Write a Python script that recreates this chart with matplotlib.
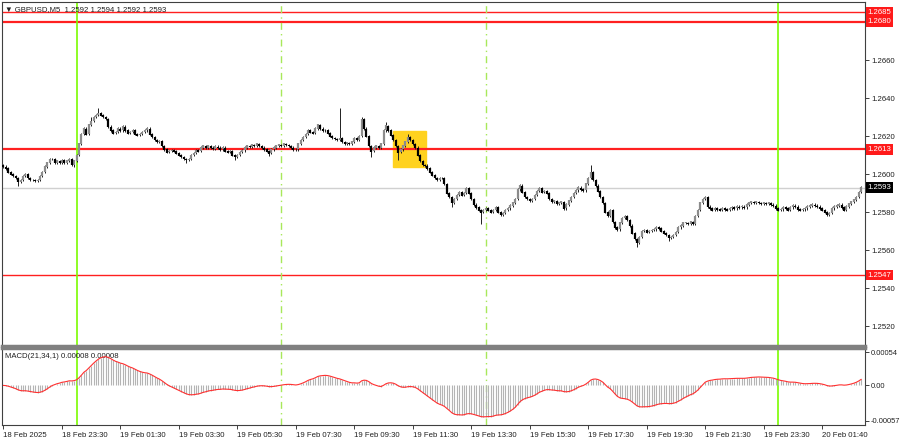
import numpy as np
import pandas as pd
import matplotlib
matplotlib.use("Agg")
import matplotlib.pyplot as plt
import matplotlib.transforms as mtransforms
from matplotlib.patches import Rectangle

plt.rcParams.update({
    "font.family": ["Liberation Sans", "DejaVu Sans"],
    "font.size": 5.6,
})

"""
Data (GBPUSD M5, closes in pips above 1.2500)
"""
base = 1.2500
close_pips = [
    104, 103, 101, 100, 99, 98, 96, 97, 99, 100,
    98, 97, 97, 96.5, 97, 99, 101, 104, 106, 108,
    108, 106, 107, 106, 107.5, 106, 107, 108, 105, 107,
    110, 116, 121, 124, 121, 126, 128, 130, 131, 132,
    131, 130, 129, 125, 123, 121.5, 122, 124, 123, 125,
    123, 121.5, 122, 123, 121, 120.5, 121, 122, 123, 124,
    121, 119.5, 118, 117, 117.5, 115, 113, 111.5, 112, 112.5,
    112, 111, 110, 109, 108, 107.5, 108, 110, 111, 112.5,
    112, 114, 115, 114, 115, 114, 113.5, 114.5, 114, 113,
    114, 112, 111.5, 112, 110, 109, 110, 111.5, 112.5, 114,
    115, 114.5, 115.5, 115, 116, 115, 114, 113, 112, 111,
    113, 114, 115, 115.5, 115, 116, 115.5, 115, 114, 113,
    113, 116, 118, 119.5, 121, 123, 122, 121.5, 124, 126,
    124, 123, 123, 121.5, 120, 119, 118.5, 118, 119, 117,
    116, 116.5, 116, 117, 119, 118, 120, 129, 124, 120,
    115, 112, 114, 115, 114, 116, 123, 125.5, 123, 120.5,
    118, 115, 111.5, 113, 115, 117, 119.5, 118, 116, 114,
    110, 107, 105, 104.5, 103, 101, 99.5, 98, 97, 98,
    98, 95, 90, 88, 85, 87, 89, 90.5, 89, 90,
    92.5, 90, 87, 84, 82.5, 81, 80, 81, 82, 81,
    80, 81, 82.5, 80, 78.5, 79.5, 81, 82, 83.5, 85,
    87, 92, 94, 90.5, 88, 87, 86, 87, 89, 91,
    92.5, 90.5, 91, 90, 87, 85.5, 86, 84.5, 85, 85.5,
    82, 84, 86, 88, 90, 91.5, 93, 92, 91.5, 95,
    98, 101, 97, 94, 91, 88, 85, 80, 78, 81,
    75, 72, 71, 74.5, 77, 78, 76, 73, 69, 66,
    64, 67, 70, 70.5, 69.5, 70, 70.5, 71, 72, 71.5,
    70, 69, 68, 66.5, 67, 68, 69.5, 72, 73, 74.5,
    74.5, 74, 75, 74, 78, 81, 85, 87, 88, 83,
    82, 81, 82, 81.5, 81, 82, 81.5, 81, 82, 82.5,
    82, 83, 82.5, 83, 82.5, 84, 85, 85.5, 85, 85.5,
    85, 84.5, 85, 84.5, 85, 84, 83.5, 82, 81, 81.5,
    82.5, 82, 81, 82.5, 83.5, 83, 81.5, 81, 81.5, 82,
    83, 83.5, 84, 83.5, 83, 82, 81, 80, 78.5, 79.5,
    82, 83, 83.5, 84, 82.5, 81, 83, 84.5, 85.5, 86.5,
    88, 90.5, 93,
]
first_open_pips = 105
high_spikes = {39: 135, 36: 130, 138: 135, 147: 130, 157: 127.5, 166: 121, 241: 105}
low_spikes = {6: 94, 29: 104, 75: 106, 95: 107.5, 109: 109.5, 151: 109,
              162: 107.5, 184: 82.5, 196: 74, 260: 61.5, 273: 65}

tick_idx = [0, 24, 48, 72, 96, 120, 144, 168, 192, 216, 240, 264, 288, 312, 336]
tick_labels = ["18 Feb 2025", "18 Feb 23:30", "19 Feb 01:30", "19 Feb 03:30",
               "19 Feb 05:30", "19 Feb 07:30", "19 Feb 09:30", "19 Feb 11:30",
               "19 Feb 13:30", "19 Feb 15:30", "19 Feb 17:30", "19 Feb 19:30",
               "19 Feb 21:30", "19 Feb 23:30", "20 Feb 01:40"]

levels = [1.2685, 1.2680, 1.2613, 1.2547]
level_widths = [1.0, 1.6, 1.6, 1.0]
last_price = 1.2593
day_lines = [30, 318]
session_lines = [114, 198]
box_idx = (160, 173.5)
box_price = (1.26037, 1.26226)

"""
Candles
"""
closes = base + np.array(close_pips) / 10000.0
opens = np.concatenate([[base + first_open_pips / 10000.0], closes[:-1]])
highs = np.maximum(opens, closes) + 0.00006
lows = np.minimum(opens, closes) - 0.00006
for k, v in high_spikes.items():
    highs[k] = base + v / 10000.0
for k, v in low_spikes.items():
    lows[k] = base + v / 10000.0
idx = np.arange(len(closes))

s = pd.Series(closes)
macd = (s.ewm(span=21, adjust=False).mean() - s.ewm(span=34, adjust=False).mean()).values

fig = plt.figure(figsize=(9, 4.41), dpi=100)
ax = fig.add_axes([2/900, 1 - 346/441, 863/900, 344/441])
ax2 = fig.add_axes([2/900, 1 - 425/441, 863/900, 77/441])

xmin, xmax = -0.6, 353.6
for a in (ax, ax2):
    a.set_xlim(xmin, xmax)
    a.set_facecolor("white")
    for sp in a.spines.values():
        sp.set_color("#404040")
        sp.set_linewidth(0.8)

ax.set_ylim(1.25097, 1.26905)
ax2.set_ylim(-0.00064, 0.000605)

# yellow signal box
ax.add_patch(Rectangle((box_idx[0], box_price[0]), box_idx[1] - box_idx[0],
                       box_price[1] - box_price[0], color="#ffd21f", zorder=1))

# levels
for lv, lw in zip(levels, level_widths):
    ax.axhline(lv, color="#ff2020", lw=lw, zorder=2)
ax.axhline(last_price, color="#d0d0d0", lw=1.0, zorder=1.5)

# vertical lines
for a in (ax, ax2):
    for d in day_lines:
        a.axvline(d, color="#7cfc00", lw=1.2, zorder=2)
    for d in session_lines:
        a.axvline(d, color="#a8e85a", lw=1.0, ls=(0, (5, 3, 1, 3)), zorder=2)

up = closes >= opens
ax.vlines(idx, lows, highs, color="#202020", lw=0.7, zorder=3)
ax.vlines(idx[up], opens[up], closes[up] + 0.00002, color="#8c8c8c", lw=1.6, zorder=4)
ax.vlines(idx[~up], closes[~up] - 0.00002, opens[~up], color="#000000", lw=1.6, zorder=4)

# price axis
ax.yaxis.tick_right()
ax.set_yticks([1.2520, 1.2540, 1.2560, 1.2580, 1.2600, 1.2620, 1.2640, 1.2660])
ax.set_yticklabels(["1.2520", "1.2540", "1.2560", "1.2580", "1.2600",
                    "1.2620", "1.2640", "1.2660"])
ax.tick_params(axis="y", length=3, width=0.6, pad=1.5, labelsize=5.6, colors="#202020")
ax.set_xticks([])

trans = mtransforms.blended_transform_factory(ax.transAxes, ax.transData)
for lv in levels:
    ax.text(1.003, lv, f"{lv:.4f}", transform=trans, color="white", fontsize=5.6,
            va="center", ha="left", zorder=6,
            bbox=dict(boxstyle="square,pad=0.25", fc="#ff1a1a", ec="none"))
ax.text(1.003, last_price, f"{last_price:.4f}", transform=trans, color="white",
        fontsize=5.6, va="center", ha="left", zorder=6,
        bbox=dict(boxstyle="square,pad=0.25", fc="#000000", ec="none"))

ax.text(0.004, 0.988, "\u25bc GBPUSD,M5  1.2592 1.2594 1.2592 1.2593",
        transform=ax.transAxes, fontsize=5.6, va="top", ha="left", color="#202020")
ax.spines["bottom"].set_color("#808080")
ax.spines["bottom"].set_linewidth(2.5)

# MACD panel
ax2.vlines(idx, 0, macd, color="#b4b4b4", lw=0.8, zorder=3)
ax2.plot(idx, macd, color="#ff3030", lw=0.8, zorder=4)
ax2.yaxis.tick_right()
ax2.set_yticks([0.00054, 0.0, -0.00057])
ax2.set_yticklabels(["0.00054", "0.00", "-0.00057"])
ax2.tick_params(axis="y", length=3, width=0.6, pad=1, labelsize=5.4, colors="#202020")
ax2.set_xticks(tick_idx)
ax2.set_xticklabels(tick_labels, ha="left")
ax2.tick_params(axis="x", length=3, width=0.6, pad=2, labelsize=5.6, colors="#202020")
ax2.spines["top"].set_color("#808080")
ax2.spines["top"].set_linewidth(2.5)
ax2.text(0.004, 0.93, "MACD(21,34,1) 0.00008 0.00008", transform=ax2.transAxes,
         fontsize=5.6, va="top", ha="left", color="#202020")

plt.savefig("out.png", dpi=100)
